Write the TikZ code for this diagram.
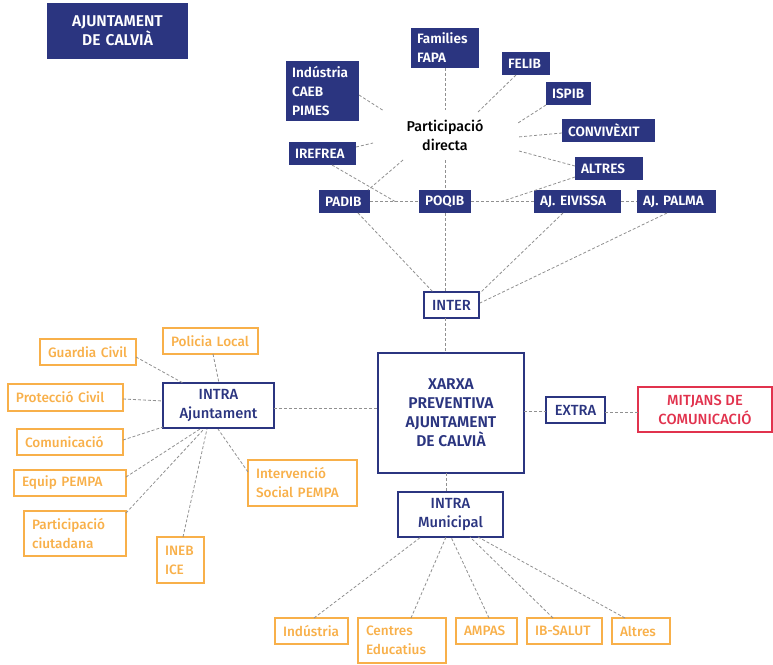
\documentclass[tikz,border=0pt]{standalone}
\usepackage{fontspec}
\IfFontExistsTF{Fira Sans Medium}{%
  \IfFontExistsTF{Fira Sans SemiBold}{%
    \setmainfont{Fira Sans}[UprightFont={* Medium},BoldFont={* SemiBold}]}{%
    \setmainfont{Fira Sans}[UprightFont={* Medium}]}}{%
  \setmainfont{Fira Sans}}
\hyphenpenalty=10000
\exhyphenpenalty=10000
\definecolor{navy}{HTML}{2B3580}
\definecolor{orangec}{HTML}{F8B04A}
\definecolor{redc}{HTML}{E1334E}
\definecolor{linec}{HTML}{909090}
\newcommand{\basefont}{\fontsize{13.6}{19}\selectfont}
\newcommand{\bigfont}{\fontsize{14.7}{19}\selectfont}
\newcommand{\hugefont}{\fontsize{15.6}{19}\selectfont}
\begin{document}
\begin{tikzpicture}[x=1pt,y=-1pt,
  every node/.style={font=\basefont},
  nb/.style 2 args={fill=navy, text=white, font=\basefont\bfseries, inner xsep=6pt, inner ysep=0pt, align=left, text width=#1, minimum height=#2},
  ob/.style 2 args={draw=orangec, line width=1.8pt, text=orangec, inner xsep=8pt, inner ysep=0pt, align=left, text width=#1, minimum height=#2},
  outb/.style 2 args={draw=navy, line width=1.8pt, text=navy, font=\bigfont, inner sep=0pt, align=center, minimum width=#1, minimum height=#2},
  conn/.style={draw=linec, dash pattern=on 3pt off 2pt, line width=0.8pt}
]
\useasboundingbox (0,0) rectangle (773,664);
% top navy nodes
\node[nb={129}{56}, align=center, font=\hugefont\bfseries] (title) at (117.5,31) {AJUNTAMENT\\DE CALVIÀ};
\node[nb={56}{40}] (fam) at (445,48) {Families\\FAPA};
\node[nb={61}{60}] (ind) at (322.5,91) {Indústria\\CAEB\\PIMES};
\node[nb={55}{23}] (iref) at (322.5,153.5) {IREFREA};
\node[nb={39}{23}] (padib) at (344.5,201.5) {PADIB};
\node[nb={40}{23}] (poqib) at (445,201.5) {POQIB};
\node[nb={36}{23}] (felib) at (526,63.5) {FELIB};
\node[nb={33}{23}] (ispib) at (568.5,93.5) {ISPIB};
\node[nb={81}{23}] (conv) at (608.5,130.5) {CONVIVÈXIT};
\node[nb={56}{23}] (altres) at (609,168.5) {ALTRES};
\node[nb={75}{23}] (eiv) at (577.5,201.5) {AJ.~EIVISSA};
\node[nb={67}{23}] (palma) at (676.5,201.5) {AJ.~PALMA};
\node[align=center, font=\fontsize{14.3}{19}\selectfont, minimum width=146, minimum height=50, inner sep=0pt] (hub) at (445,135) {Participació\\directa};
% outline navy nodes
\node[outb={55}{26}] (inter) at (451.5,305) {INTER};
\node[outb={146}{120}, font=\hugefont\bfseries] (xarxa) at (451,413) {XARXA\\PREVENTIVA\\AJUNTAMENT\\DE CALVIÀ};
\node[outb={59}{26}] (extra) at (575.5,410) {EXTRA};
\node[outb={111}{45}] (intraA) at (218.5,405.5) {INTRA\\Ajuntament};
\node[outb={105}{45}] (intraM) at (450.5,514.5) {INTRA\\Municipal};
\node[draw=redc, line width=1.8pt, text=redc, font=\bigfont, align=center, inner sep=0pt, minimum width=134, minimum height=45] (mitj) at (705,409.5) {MITJANS DE\\COMUNICACIÓ};
% orange nodes
\node[ob={79}{26}] (pol) at (210.5,341) {Policia~Local};
\node[ob={80}{26}] (gc) at (88,352) {Guardia~Civil};
\node[ob={99}{27}] (pc) at (65.5,397.5) {Protecció~Civil};
\node[ob={90}{26}] (com) at (70,442) {Comunicació};
\node[ob={96}{26}] (eq) at (70,483) {Equip~PEMPA};
\node[ob={86}{45}] (part) at (75,533.5) {Participació\\ciutadana};
\node[ob={31}{46}] (ineb) at (180.5,560) {INEB\\ICE};
\node[ob={93}{46}] (isp) at (302.5,483) {Intervenció\\Social~PEMPA};
\node[ob={57}{26}] (bind) at (311.5,631) {Indústria};
\node[ob={72}{45}] (cent) at (402,640.5) {Centres\\Educatius};
\node[ob={45}{26}] (ampas) at (486.5,631) {AMPAS};
\node[ob={59}{26}] (ibs) at (564.5,631) {IB-SALUT};
\node[ob={42}{26}] (balt) at (641,631) {Altres};
% connectors: participacio directa
\draw[conn] ([shift={(36.5,4)}]ind.center) -- ([shift={(-61,-24)}]hub.center);
\draw[conn] (fam.south) -- (hub.north);
\draw[conn] ([shift={(-10,11.5)}]felib.center) -- ([shift={(32,-22)}]hub.center);
\draw[conn] ([shift={(-22.5,11.5)}]ispib.center) -- ([shift={(73,-12)}]hub.center);
\draw[conn] ([shift={(-46.5,2.5)}]conv.center) -- ([shift={(73,2)}]hub.center);
\draw[conn] ([shift={(-34,-2.5)}]altres.center) -- ([shift={(74,16)}]hub.center);
\draw[conn] ([shift={(33.5,-6.5)}]iref.center) -- ([shift={(-72,8)}]hub.center);
\draw[conn] ([shift={(-42,25)}]hub.center) -- ([shift={(23.5,-11.5)}]padib.center);
\draw[conn] (hub.south) -- (poqib.north);
% horizontal row
\draw[conn] (padib.east) -- (poqib.west);
\draw[conn] (poqib.east) -- (eiv.west);
\draw[conn] (eiv.east) -- (palma.west);
\draw[conn] ([shift={(9.5,11.5)}]iref.center) -- ([shift={(-49,0.5)}]poqib.center);
\draw[conn] ([shift={(-34,8.5)}]altres.center) -- ([shift={(55,0.5)}]poqib.center);
% to INTER
\draw[conn] ([shift={(13.5,11.5)}]padib.center) -- ([shift={(-18.5,-13)}]inter.center);
\draw[conn] (poqib.south) -- ([shift={(-6.5,-13)}]inter.center);
\draw[conn] ([shift={(-14.5,11.5)}]eiv.center) -- ([shift={(28.5,-12)}]inter.center);
\draw[conn] ([shift={(-9.5,11.5)}]palma.center) -- ([shift={(28.5,-2)}]inter.center);
% centre
\draw[conn] ([shift={(-6,13)}]inter.center) -- ([shift={(-5.5,-60)}]xarxa.center);
\draw[conn] ([shift={(55.5,2.5)}]intraA.center) -- ([shift={(-73,-5)}]xarxa.center);
\draw[conn] ([shift={(73,-2)}]xarxa.center) -- ([shift={(-29.5,1)}]extra.center);
\draw[conn] ([shift={(29.5,2)}]extra.center) -- ([shift={(-67,2.5)}]mitj.center);
\draw[conn] ([shift={(-5,60)}]xarxa.center) -- ([shift={(-4.5,-22.5)}]intraM.center);
% INTRA Ajuntament
\draw[conn] ([shift={(48,5)}]gc.center) -- ([shift={(-35.5,-22.5)}]intraA.center);
\draw[conn] ([shift={(2.5,13)}]pol.center) -- ([shift={(0.5,-22.5)}]intraA.center);
\draw[conn] ([shift={(57.5,1.5)}]pc.center) -- ([shift={(-55.5,-4.5)}]intraA.center);
\draw[conn] ([shift={(53,-2)}]com.center) -- ([shift={(-55.5,21.5)}]intraA.center);
\draw[conn] ([shift={(56,-6)}]eq.center) -- ([shift={(-18.5,23.5)}]intraA.center);
\draw[conn] ([shift={(51,-20.5)}]part.center) -- ([shift={(-14.5,23.5)}]intraA.center);
\draw[conn] ([shift={(2.5,-23)}]ineb.center) -- ([shift={(-11.5,23.5)}]intraA.center);
\draw[conn] ([shift={(-54.5,-11)}]isp.center) -- ([shift={(-0.5,23.5)}]intraA.center);
% INTRA Municipal
\draw[conn] ([shift={(2.5,-13)}]bind.center) -- ([shift={(-29.5,22.5)}]intraM.center);
\draw[conn] ([shift={(9,-22.5)}]cent.center) -- ([shift={(-4.5,22.5)}]intraM.center);
\draw[conn] ([shift={(2.5,-13)}]ampas.center) -- ([shift={(0.5,22.5)}]intraM.center);
\draw[conn] ([shift={(-11.5,-13)}]ibs.center) -- ([shift={(19.5,22.5)}]intraM.center);
\draw[conn] ([shift={(-16,-13)}]balt.center) -- ([shift={(27.5,22.5)}]intraM.center);
\end{tikzpicture}
\end{document}
